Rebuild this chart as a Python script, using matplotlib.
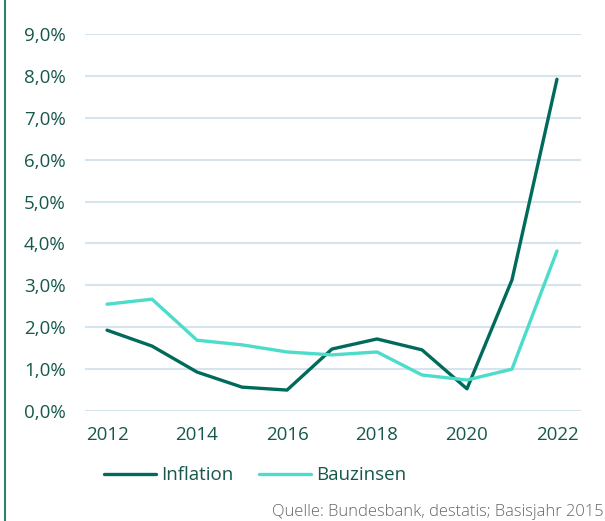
import matplotlib.pyplot as plt
from matplotlib.lines import Line2D
from matplotlib.ticker import FuncFormatter

plt.rcParams['font.family'] = ['Open Sans', 'DejaVu Sans']

years = [2012, 2013, 2014, 2015, 2016, 2017, 2018, 2019, 2020, 2021, 2022]
inflation = [1.93, 1.55, 0.93, 0.57, 0.50, 1.48, 1.72, 1.46, 0.53, 3.13, 7.92]
bauzinsen = [2.55, 2.67, 1.69, 1.58, 1.41, 1.34, 1.41, 0.86, 0.74, 1.00, 3.82]

DARK = "#006b5b"
TURQ = "#4ddccb"
TXT = "#16584c"
GRID = "#d6e4ee"

fig = plt.figure(figsize=(6.05, 5.21), dpi=100)
ax = fig.add_axes([0.1405, 0.2111, 0.8195, 0.7236])

ax.plot(years, inflation, color=DARK, lw=2.4, label="Inflation", solid_capstyle="round")
ax.plot(years, bauzinsen, color=TURQ, lw=2.4, label="Bauzinsen", solid_capstyle="round")

ax.set_xlim(2011.51, 2022.53)
ax.set_ylim(0, 9)
ax.set_yticks(range(0, 10))
ax.set_xticks(range(2012, 2023, 2))
ax.yaxis.set_major_formatter(FuncFormatter(lambda v, p: f"{v:.1f}%".replace(".", ",")))
ax.grid(axis="y", color=GRID, lw=1.5)
ax.set_axisbelow(True)
for s in ax.spines.values():
    s.set_visible(False)
ax.tick_params(length=0, labelsize=13.5, labelcolor=TXT)
ax.tick_params(axis="y", pad=14)
ax.tick_params(axis="x", pad=11)

leg = ax.legend(loc="center", bbox_to_anchor=(0.343, -0.17), ncol=2, frameon=False,
                fontsize=13.5, handlelength=2.8, handletextpad=0.27, columnspacing=1.33,
                borderpad=0, borderaxespad=0)
for t in leg.get_texts():
    t.set_color(TXT)

# left border line
fig.add_artist(Line2D([5 / 605, 5 / 605], [0, 1], color="#2e8073", lw=1.5))

fig.text(0.998, 0.009, "Quelle: Bundesbank, destatis; Basisjahr 2015", ha="right", va="baseline",
         fontsize=11.9, color="#666666", fontweight="light")

fig.savefig("out.png", dpi=100, facecolor="white")
